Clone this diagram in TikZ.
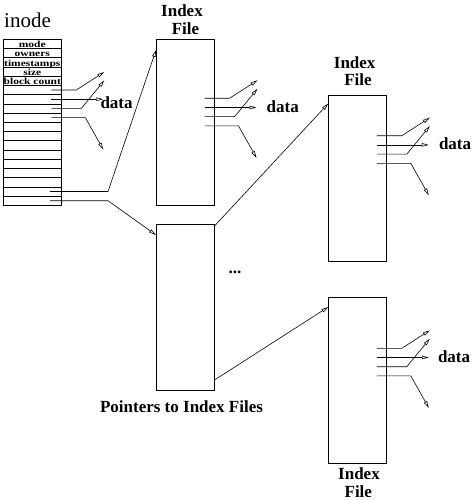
\documentclass[tikz,border=0pt]{standalone}
\usepackage{fontspec}
\setmainfont{Liberation Serif}
\usepackage{graphicx}
\usetikzlibrary{arrows.meta,calc}
\begin{document}
\begin{tikzpicture}[x=1pt,y=-1pt,
  box/.style={draw, line width=0.7pt, minimum width=58.5pt, minimum height=166pt, inner sep=0pt, outer sep=0pt, anchor=north west},
  lbl/.style={font=\fontsize{17}{18}\selectfont\bfseries, inner sep=0pt, anchor=base},
  datalbl/.style={font=\fontsize{17}{18}\selectfont\bfseries, inner sep=0pt, anchor=base west},
  cell/.style={font=\fontsize{11.5}{11.5}\selectfont\bfseries, inner sep=0pt, anchor=base},
  conn/.style={line width=0.6pt},
  arr/.style={conn, -{Triangle[open, length=7pt, width=3.5pt, line width=0.6pt]}},
  fan/.pic={
    \coordinate (-s1) at (-10,0);    \coordinate (-b1) at (15,0);    \coordinate (-e1) at (43,-18);
    \coordinate (-s2) at (-10,9.2);  \coordinate (-e2) at (42,9.2);
    \coordinate (-s3) at (-10,18.4); \coordinate (-b3) at (20,18.4); \coordinate (-e3) at (43,-9.6);
    \coordinate (-s4) at (-10,27.6); \coordinate (-b4) at (24,27.6); \coordinate (-e4) at (42,59.6);
    \draw[arr] (-s1) -- (-b1) -- (-e1);
    \draw[arr] (-s2) -- (-e2);
    \draw[arr] (-s3) -- (-b3) -- (-e3);
    \draw[arr] (-s4) -- (-b4) -- (-e4);
  }
]
\useasboundingbox (0,0) rectangle (471,500);

% inode table
\node[font=\fontsize{21}{22}\selectfont, inner sep=0pt, anchor=base west] (inodelbl) at (4,28) {inode};
\node[box, minimum width=58pt] (inode) at (3.3,39.3) {};
\foreach \i in {1,...,17}
  \draw[conn] ($(inode.north west)+(0,\i*9.222)$) -- ($(inode.north east)+(0,\i*9.222)$);
\node[cell] (cmode)  at ($(inode.north)+(0,1*9.222-0.8)$) {\scalebox{1}[0.8]{mode}};
\node[cell] (cown)   at ($(inode.north)+(0,2*9.222-0.8)$) {\scalebox{1}[0.8]{owners}};
\node[cell] (ctime)  at ($(inode.north)+(0,3*9.222-0.8)$) {\scalebox{1}[0.8]{timestamps}};
\node[cell] (csize)  at ($(inode.north)+(0,4*9.222-0.8)$) {\scalebox{1}[0.8]{size}};
\node[cell] (cblock) at ($(inode.north)+(0,5*9.222-0.8)$) {\scalebox{1}[0.8]{block count}};

% boxes
\node[box] (idx1) at (156,39.3) {};
\node[box] (ptr)  at (156,224) {};
\node[box] (idx2) at (328.3,95) {};
\node[box] (idx3) at (328.3,297) {};

% labels
\node[lbl] (i1a) at (182,16.7) {Index};
\node[lbl] (i1b) at (185.5,35) {File};
\node[lbl] (i2a) at (354.7,68.3) {Index};
\node[lbl] (i2b) at (358,86) {File};
\node[lbl] (i3a) at (359,479.5) {Index};
\node[lbl] (i3b) at (358.3,497.5) {File};
\node[lbl] (ptrlbl) at (181.5,412.5) {Pointers to Index Files};
\node[lbl] (dots) at (235,273.5) {...};

% data fans
\pic (fa) at ($(inode.north east)+(0,50.7)$) {fan};
\pic (fb) at ($(idx1.north east)+(0,59)$) {fan};
\pic (fc) at ($(idx2.north east)+(0,40.7)$) {fan};
\pic (fd) at ($(idx3.north east)+(0,51.3)$) {fan};
\node[datalbl] (da) at ($(fa-e2)+(-3,9)$) {data};
\node[datalbl] (db) at ($(fb-e2)+(10,5)$) {data};
\node[datalbl] (dc) at ($(fc-e2)+(10,5)$) {data};
\node[datalbl] (dd) at ($(fd-e2)+(9,4.5)$) {data};

% inode to index files
\coordinate (p1s) at ($(inode.north east)+(-11.3,152.2)$);
\coordinate (p1b) at ($(inode.north east)+(46.7,152.2)$);
\coordinate (p2s) at ($(inode.north east)+(-11.3,161.4)$);
\coordinate (p2b) at ($(inode.north east)+(46.7,161.4)$);
\draw[arr] (p1s) -- (p1b) -- ([yshift=-10.7pt]idx1.north west);
\draw[arr] (p2s) -- (p2b) -- ([yshift=-11pt]ptr.north west);

% pointers box to index files
\draw[arr] ([yshift=-2pt]ptr.north east) -- ([yshift=-8.5pt]idx2.north west);
\draw[arr] ([yshift=10pt]ptr.south east) -- ([yshift=-10pt]idx3.north west);
\end{tikzpicture}
\end{document}
